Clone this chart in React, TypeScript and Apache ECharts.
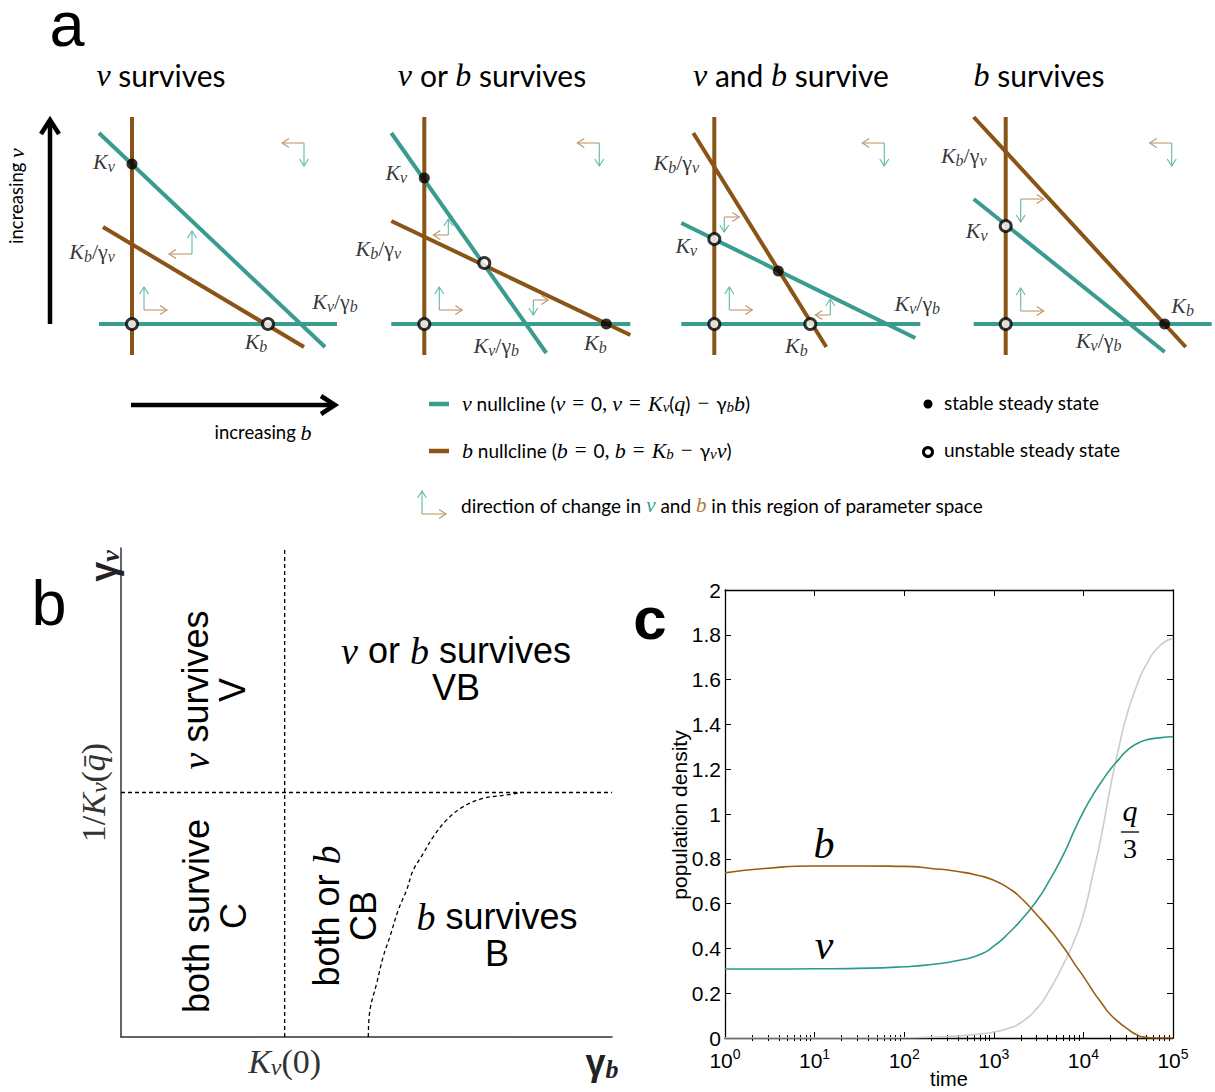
import React, { useEffect, useRef } from "react";
import * as echarts from "echarts";

// ---------------- colours & fonts ----------------
const TEAL = "#3a9b8f";
const BROWN = "#8a5417";
const ARROW_TEAL = "#62b6ab";
const ARROW_BROWN = "#c1976a";
const C_TEAL = "#2b9a8b";
const C_BROWN = "#9a5d12";
const C_GRAY = "#cccccc";
const SANS = "Lato";
const SERIF = "Liberation Serif";
const ARIAL = "Liberation Sans";

// ---------------- panel a : nullcline diagrams (units of b and v) ----------------
const panelATitles = [
  "{m|v} survives",
  "{m|v} or {m|b} survives",
  "{m|v} and {m|b} survive",
  "{m|b} survives",
];
// b nullcline b = 0 (vertical) and v nullcline v = 0 (horizontal)
const bNullclineAxis = [
  [[0, -0.31], [0, 2.07]],
  [[0, -0.31], [0, 2.07]],
  [[0, -0.31], [0, 2.07]],
  [[0, -0.31], [0, 2.07]],
];
const vNullclineAxis = [
  [[-0.33, 0], [2.05, 0]],
  [[-0.33, 0], [2.06, 0]],
  [[-0.33, 0], [2.06, 0]],
  [[-0.32, 0], [2.06, 0]],
];
// v = Kv - γb b
const vNullclineDiag = [
  [[-0.33, 1.91], [1.93, -0.23]],
  [[-0.33, 1.91], [1.22, -0.29]],
  [[-0.33, 1.01], [2.01, -0.14]],
  [[-0.32, 1.25], [1.59, -0.28]],
];
// b = Kb - γv v
const bNullclineDiag = [
  [[-0.29, 0.97], [1.72, -0.23]],
  [[-0.33, 1.03], [2.06, -0.11]],
  [[-0.21, 1.91], [1.12, -0.23]],
  [[-0.32, 2.07], [1.8, -0.23]],
];
const stableStates = [
  [[0, 1.6]],
  [[0, 1.46], [1.82, 0]],
  [[0.64, 0.53]],
  [[1.59, 0]],
];
const unstableStates = [
  [[0, 0], [1.36, 0]],
  [[0, 0], [0.6, 0.61]],
  [[0, 0], [0, 0.85], [0.96, 0]],
  [[0, 0], [0, 0.98]],
];
// direction of change: [b, v, Δb, Δv]
const changeArrows = [
  [[1.72, 1.81, -0.22, -0.23], [0.6, 0.7, -0.23, 0.23], [0.12, 0.14, 0.23, 0.23]],
  [[1.75, 1.81, -0.22, -0.23], [0.24, 0.89, -0.15, 0.16], [0.15, 0.14, 0.23, 0.23], [1.09, 0.24, 0.15, -0.15]],
  [[1.7, 1.81, -0.22, -0.23], [0.1, 1.07, 0.15, -0.15], [0.15, 0.14, 0.23, 0.23], [1.16, 0.09, -0.15, 0.16]],
  [[1.66, 1.81, -0.22, -0.23], [0.15, 1.25, 0.23, -0.23], [0.15, 0.13, 0.23, 0.23]],
];
const nullclineLabels: [number, number, string][][] = [
  [[-0.28, 1.63, "Kv"], [-0.4, 0.73, "Kb/γv"], [2.03, 0.23, "Kv/γb"], [1.24, -0.17, "Kb"]],
  [[-0.28, 1.52, "Kv"], [-0.46, 0.76, "Kb/γv"], [0.72, -0.21, "Kv/γb"], [1.71, -0.18, "Kb"]],
  [[-0.38, 1.62, "Kb/γv"], [-0.28, 0.79, "Kv"], [2.03, 0.21, "Kv/γb"], [0.82, -0.21, "Kb"]],
  [[-0.42, 1.69, "Kb/γv"], [-0.29, 0.94, "Kv"], [1.77, 0.19, "Kb"], [0.93, -0.16, "Kv/γb"]],
];
const LABEL_TEXT: Record<string, string> = {
  Kv: "{i|K}{s|v}",
  Kb: "{i|K}{s|b}",
  "Kv/γb": "{i|K}{s|v}{g|/γ}{s|b}",
  "Kb/γv": "{i|K}{s|b}{g|/γ}{s|v}",
};

// ---------------- panel b : parameter space ----------------
const boundaryKv0 = [[1, 0], [1, 2]];
const boundaryInvKv = [[0, 1], [3, 1]];
const boundaryCurve = [
  [1.511, 0], [1.521, 0.11], [1.562, 0.219], [1.602, 0.328], [1.643, 0.41], [1.694, 0.519],
  [1.745, 0.601], [1.786, 0.683], [1.847, 0.751], [1.908, 0.819], [1.99, 0.888], [2.091, 0.942],
  [2.213, 0.976], [2.356, 0.99], [2.45, 1.0],
];

// ---------------- panel c : time series ----------------
const timeC = [1, 3, 10, 30, 100, 200, 400, 700, 1000, 1500, 2000, 3000, 4000, 6000, 8000, 10000, 13000, 16000, 20000, 25000, 30000, 40000, 50000, 70000, 100000];
const bDensity = [0.737, 0.758, 0.768, 0.768, 0.766, 0.757, 0.743, 0.724, 0.704, 0.666, 0.626, 0.551, 0.495, 0.405, 0.33, 0.275, 0.205, 0.155, 0.105, 0.07, 0.045, 0.013, 0.003, 0, 0];
const vDensity = [0.308, 0.308, 0.309, 0.311, 0.318, 0.328, 0.346, 0.373, 0.41, 0.472, 0.525, 0.612, 0.69, 0.82, 0.93, 1.01, 1.09, 1.145, 1.2, 1.245, 1.28, 1.315, 1.33, 1.34, 1.345];
const qThird = [0, 0, 0, 0, 0.001, 0.004, 0.009, 0.018, 0.027, 0.045, 0.068, 0.13, 0.2, 0.33, 0.44, 0.55, 0.745, 0.91, 1.12, 1.3, 1.43, 1.58, 1.665, 1.748, 1.784];
const yTicksC = { min: 0, max: 2, interval: 0.2 };
const decadesC = [0, 1, 2, 3, 4];
const minorMultiples = [2, 3, 4, 5, 6, 7, 8, 9];

// ---------------- helpers ----------------
function arrowElements(o: number[], p: number[], color: string, lw = 1.1, h = 7, w = 4.5): any[] {
  const dx = p[0] - o[0];
  const dy = p[1] - o[1];
  const len = Math.hypot(dx, dy) || 1;
  const ux = dx / len;
  const uy = dy / len;
  const bx = p[0] - ux * h;
  const by = p[1] - uy * h;
  return [
    { type: "line", shape: { x1: o[0], y1: o[1], x2: p[0], y2: p[1] }, style: { stroke: color, lineWidth: lw, fill: null } },
    {
      type: "polyline",
      shape: { points: [[bx - uy * w, by + ux * w], [p[0], p[1]], [bx + uy * w, by - ux * w]] },
      style: { stroke: color, lineWidth: lw, fill: null, lineJoin: "miter" },
    },
  ];
}

const renderChangeArrows = (_params: any, api: any) => {
  const b = api.value(0);
  const v = api.value(1);
  const db = api.value(2);
  const dv = api.value(3);
  const o = api.coord([b, v]);
  const pb = api.coord([b + db, v]);
  const pv = api.coord([b, v + dv]);
  return {
    type: "group",
    children: [...arrowElements(o, pv, ARROW_TEAL), ...arrowElements(o, pb, ARROW_BROWN)],
  };
};

function txt(x: number, y: number, text: string, o: any = {}) {
  return {
    type: "text",
    x,
    y,
    rotation: o.rotation || 0,
    silent: true,
    z: 20,
    style: {
      text,
      fontFamily: o.fontFamily || SANS,
      fontSize: o.fontSize || 19,
      fontWeight: o.fontWeight || "normal",
      fontStyle: o.fontStyle || "normal",
      fill: o.fill || "#000",
      textAlign: o.align || "center",
      textVerticalAlign: o.valign || "middle",
      lineHeight: o.lineHeight,
      rich: o.rich,
    },
  };
}

function buildOption() {
  const subLeft = [97, 389.3, 679.3, 970.7];
  const grids: any[] = subLeft.map((l) => ({ left: l, top: 116, width: 240, height: 240 }));
  grids.push({ left: 121, top: 548, width: 491, height: 489 });
  grids.push({ left: 725, top: 590, width: 448, height: 448 });

  const xAxes: any[] = subLeft.map((_, i) => ({ type: "value", gridIndex: i, min: -0.35, max: 2.05, show: false }));
  const yAxes: any[] = subLeft.map((_, i) => ({ type: "value", gridIndex: i, min: -0.32, max: 2.08, show: false }));

  const serifRich = {
    i: { fontFamily: SERIF, fontStyle: "italic", fontSize: 34, color: "#333" },
    s: { fontFamily: SERIF, fontStyle: "italic", fontSize: 24, color: "#333", padding: [12, 0, 0, 0] },
    n: { fontFamily: SERIF, fontSize: 34, color: "#333" },
  };
  // panel b axes
  xAxes.push({
    type: "value", gridIndex: 4, min: 0, max: 3,
    axisLine: { show: true, onZero: false, lineStyle: { color: "#333", width: 1.5 } },
    axisTick: { show: false }, splitLine: { show: false },
    axisLabel: { show: true, customValues: [1], margin: 6, formatter: () => "{i|K}{s|v}{n|(0)}", rich: serifRich },
  });
  yAxes.push({
    type: "value", gridIndex: 4, min: 0, max: 2,
    axisLine: { show: true, onZero: false, lineStyle: { color: "#333", width: 1.5 } },
    axisTick: { show: false }, splitLine: { show: false },
    axisLabel: { show: true, customValues: [1], rotate: 90, margin: 10, formatter: () => "{n|1/}{i|K}{s|v}{n|(}{i|q\u0304}{n|)}", rich: serifRich },
  });
  // panel c axes
  const expRich = {
    b: { fontFamily: ARIAL, fontSize: 21, color: "#000" },
    e: { fontFamily: ARIAL, fontSize: 14, color: "#000", padding: [0, 0, 12, 0] },
  };
  const blackLine = { show: true, onZero: false, lineStyle: { color: "#000", width: 1.3 } };
  xAxes.push({
    type: "log", logBase: 10, gridIndex: 5, min: 1, max: 100000, position: "bottom",
    axisLine: blackLine,
    axisTick: { show: true, inside: true, length: 6, lineStyle: { color: "#000", width: 1 } },
    splitLine: { show: false },
    axisLabel: { margin: 9, formatter: (v: number) => `{b|10}{e|${Math.round(Math.log10(v))}}`, rich: expRich },
  });
  xAxes.push({
    type: "log", logBase: 10, gridIndex: 5, min: 1, max: 100000, position: "top",
    axisLine: blackLine,
    axisTick: { show: true, inside: true, length: 6, lineStyle: { color: "#000", width: 1 } },
    splitLine: { show: false }, axisLabel: { show: false },
  });
  const minorExp = decadesC.flatMap((d) => minorMultiples.map((m) => d + Math.log10(m)));
  ["bottom", "top"].forEach((pos) =>
    xAxes.push({
      type: "value", gridIndex: 5, min: 0, max: 5, position: pos,
      axisLine: { show: false }, splitLine: { show: false }, axisLabel: { show: false },
      axisTick: { show: true, inside: true, length: 3, customValues: minorExp, lineStyle: { color: "#000", width: 1 } },
    })
  );
  yAxes.push({
    type: "value", gridIndex: 5, ...yTicksC, position: "left",
    axisLine: blackLine,
    axisTick: { show: true, inside: true, length: 6, lineStyle: { color: "#000", width: 1 } },
    splitLine: { show: false },
    axisLabel: { fontFamily: ARIAL, fontSize: 21, color: "#000", margin: 4 },
  });
  yAxes.push({
    type: "value", gridIndex: 5, ...yTicksC, position: "right",
    axisLine: blackLine,
    axisTick: { show: true, inside: true, length: 6, lineStyle: { color: "#000", width: 1 } },
    splitLine: { show: false }, axisLabel: { show: false },
  });

  const series: any[] = [];
  const kRich = {
    i: { fontFamily: SERIF, fontStyle: "italic", fontSize: 22, color: "#000" },
    s: { fontFamily: SERIF, fontStyle: "italic", fontSize: 16, color: "#000", padding: [10, 0, 0, 0] },
    g: { fontFamily: SERIF, fontSize: 22, color: "#000" },
  };
  for (let i = 0; i < 4; i++) {
    const ax = { xAxisIndex: i, yAxisIndex: i };
    const lineBase = { type: "line", ...ax, symbol: "none", silent: true, clip: false, z: 2 };
    series.push({ ...lineBase, data: vNullclineAxis[i], lineStyle: { color: TEAL, width: 4 } });
    series.push({ ...lineBase, data: vNullclineDiag[i], lineStyle: { color: TEAL, width: 4 } });
    series.push({ ...lineBase, data: bNullclineAxis[i], lineStyle: { color: BROWN, width: 4 } });
    series.push({ ...lineBase, data: bNullclineDiag[i], lineStyle: { color: BROWN, width: 4 } });
    series.push({
      type: "custom", ...ax, renderItem: renderChangeArrows, data: changeArrows[i],
      encode: { x: 0, y: 1 }, silent: true, clip: false, z: 3,
    });
    series.push({
      type: "scatter", ...ax, data: stableStates[i], symbol: "circle", symbolSize: 11,
      itemStyle: { color: "#000" }, silent: true, clip: false, z: 5,
    });
    series.push({
      type: "scatter", ...ax, data: unstableStates[i], symbol: "circle", symbolSize: 11,
      itemStyle: { color: "#fff", borderColor: "#000", borderWidth: 3 }, silent: true, clip: false, z: 5,
    });
    series.push({
      type: "scatter", ...ax, symbolSize: 1, itemStyle: { color: "rgba(0,0,0,0)" }, silent: true, clip: false, z: 6,
      data: nullclineLabels[i].map(([b, v, key]) => ({ name: key, value: [b, v] })),
      label: { show: true, position: "inside", color: "#000", formatter: (p: any) => LABEL_TEXT[p.name], rich: kRich },
    });
  }
  const dashed = { color: "#000", width: 1.3, type: [4, 3] };
  const bAx = { xAxisIndex: 4, yAxisIndex: 4, symbol: "none", silent: true };
  series.push({ type: "line", ...bAx, data: boundaryKv0, lineStyle: dashed });
  series.push({ type: "line", ...bAx, data: boundaryInvKv, lineStyle: dashed });
  series.push({ type: "line", ...bAx, data: boundaryCurve, smooth: 0.4, lineStyle: dashed });

  const cAx = { xAxisIndex: 5, yAxisIndex: 5, symbol: "none", showSymbol: false, silent: true, smooth: 0.6 };
  series.push({ type: "line", ...cAx, data: timeC.map((t, k) => [t, qThird[k]]), lineStyle: { color: C_GRAY, width: 1.6 } });
  series.push({ type: "line", ...cAx, data: timeC.map((t, k) => [t, vDensity[k]]), lineStyle: { color: C_TEAL, width: 1.6 } });
  series.push({ type: "line", ...cAx, data: timeC.map((t, k) => [t, bDensity[k]]), lineStyle: { color: C_BROWN, width: 1.6 } });

  // ---------------- graphic texts & decorations ----------------
  const titleRich = { m: { fontFamily: SERIF, fontStyle: "italic", fontSize: 32, fill: "#000" } };
  const lgRich = {
    m: { fontFamily: SERIF, fontStyle: "italic", fontSize: 22, fill: "#000" },
    s: { fontFamily: SERIF, fontStyle: "italic", fontSize: 15, fill: "#000", padding: [8, 0, 0, 0] },
    o: { fontFamily: SERIF, fontSize: 21, fill: "#000", padding: [0, 7, 0, 7] },
    c: { fontFamily: SERIF, fontSize: 21, fill: "#000", padding: [0, 5, 0, 0] },
    tv: { fontFamily: SERIF, fontStyle: "italic", fontSize: 21, fill: TEAL },
    tb: { fontFamily: SERIF, fontStyle: "italic", fontSize: 21, fill: "#b07a30" },
  };
  const bigRich = { m: { fontFamily: SERIF, fontStyle: "italic", fontSize: 38, fill: "#000", lineHeight: 37 } };
  const gRich = {
    g: { fontFamily: ARIAL, fontSize: 36, fontWeight: "bold", fill: "#222" },
    s: { fontFamily: SERIF, fontStyle: "italic", fontWeight: "bold", fontSize: 26, fill: "#222", padding: [14, 0, 0, 0] },
  };
  const titleX = [161, 492, 791, 1039];
  const graphics: any[] = [];
  graphics.push(txt(67, 24, "a", { fontFamily: ARIAL, fontSize: 63 }));
  graphics.push(txt(49, 603, "b", { fontFamily: ARIAL, fontSize: 63 }));
  graphics.push(txt(650, 618, "c", { fontFamily: ARIAL, fontSize: 60, fontWeight: "bold" }));
  panelATitles.forEach((t, i) => graphics.push(txt(titleX[i], 75, t, { fontSize: 30, rich: titleRich })));
  // axes of panel a
  graphics.push({ type: "line", shape: { x1: 50, y1: 324, x2: 50, y2: 121 }, style: { stroke: "#000", lineWidth: 4.5 }, silent: true });
  graphics.push({ type: "polyline", shape: { points: [[41, 134], [50, 120], [59, 134]] }, style: { stroke: "#000", lineWidth: 4.5, fill: null }, silent: true });
  graphics.push({ type: "line", shape: { x1: 131, y1: 405, x2: 334, y2: 405 }, style: { stroke: "#000", lineWidth: 4.5 }, silent: true });
  graphics.push({ type: "polyline", shape: { points: [[321, 396], [335, 405], [321, 414]] }, style: { stroke: "#000", lineWidth: 4.5, fill: null }, silent: true });
  graphics.push(txt(16, 196, "increasing {m|v}", { rotation: Math.PI / 2, fontSize: 18.5, rich: lgRich }));
  graphics.push(txt(263, 432, "increasing {m|b}", { fontSize: 18.5, rich: lgRich }));
  // legend
  graphics.push({ type: "line", shape: { x1: 429, y1: 404, x2: 449, y2: 404 }, style: { stroke: TEAL, lineWidth: 4.5 }, silent: true });
  graphics.push(txt(462, 403, "{m|v} nullcline ({m|v}{o|=}0{c|,}{m|v}{o|=}{m|K}{s|v}({m|q}){o|−}γ{s|b}{m|b})", { align: "left", rich: lgRich }));
  graphics.push({ type: "line", shape: { x1: 429, y1: 451, x2: 449, y2: 451 }, style: { stroke: BROWN, lineWidth: 4.5 }, silent: true });
  graphics.push(txt(462, 450, "{m|b} nullcline ({m|b}{o|=}0{c|,}{m|b}{o|=}{m|K}{s|b}{o|−}γ{s|v}{m|v})", { align: "left", rich: lgRich }));
  arrowElements([422, 514], [422, 491], ARROW_TEAL).forEach((e) => graphics.push({ ...e, silent: true }));
  arrowElements([422, 514], [446, 514], ARROW_BROWN).forEach((e) => graphics.push({ ...e, silent: true }));
  graphics.push(txt(461, 505, "direction of change in {tv|v} and {tb|b} in this region of parameter space", { align: "left", rich: lgRich }));
  graphics.push({ type: "circle", shape: { cx: 928, cy: 404, r: 4.5 }, style: { fill: "#000" }, silent: true });
  graphics.push(txt(944, 402, "stable steady state", { align: "left" }));
  graphics.push({ type: "circle", shape: { cx: 928, cy: 452, r: 4.5 }, style: { fill: "#fff", stroke: "#000", lineWidth: 3 }, silent: true });
  graphics.push(txt(944, 449, "unstable steady state", { align: "left" }));
  // panel b
  const regionOpts = { fontFamily: ARIAL, fontSize: 36, lineHeight: 37, rich: bigRich };
  graphics.push(txt(214, 690, "{m|v} survives\nV", { ...regionOpts, rotation: Math.PI / 2 }));
  graphics.push(txt(456, 669, "{m|v} or {m|b} survives\nVB", regionOpts));
  graphics.push(txt(215, 916, "both survive\nC", { ...regionOpts, rotation: Math.PI / 2 }));
  graphics.push(txt(345, 916, "both or {m|b}\nCB", { ...regionOpts, rotation: Math.PI / 2 }));
  graphics.push(txt(497, 935, "{m|b} survives\nB", regionOpts));
  graphics.push(txt(103, 566, "{g|γ}{s|v}", { rotation: Math.PI / 2, rich: gRich }));
  graphics.push(txt(602, 1062, "{g|γ}{s|b}", { rich: gRich }));
  // panel c
  graphics.push(txt(679, 815, "population density", { fontFamily: ARIAL, fontSize: 21, rotation: Math.PI / 2 }));
  graphics.push(txt(949, 1079, "time", { fontFamily: ARIAL, fontSize: 20 }));
  graphics.push(txt(824, 844, "b", { fontFamily: SERIF, fontStyle: "italic", fontSize: 42 }));
  graphics.push(txt(824, 945, "v", { fontFamily: SERIF, fontStyle: "italic", fontSize: 42 }));
  graphics.push(txt(1130, 810, "q", { fontFamily: SERIF, fontStyle: "italic", fontSize: 30 }));
  graphics.push({ type: "line", shape: { x1: 1121, y1: 832, x2: 1139, y2: 832 }, style: { stroke: "#000", lineWidth: 1.3 }, silent: true });
  graphics.push(txt(1130, 848, "3", { fontFamily: SERIF, fontSize: 28 }));

  return {
    animation: false,
    backgroundColor: "#fff",
    grid: grids,
    xAxis: xAxes,
    yAxis: yAxes,
    series,
    graphic: { elements: graphics },
  };
}

export default function App() {
  const ref = useRef<HTMLDivElement>(null);
  useEffect(() => {
    if (!ref.current) return;
    const chart = echarts.init(ref.current, undefined, { renderer: "svg", width: 1215, height: 1092 });
    chart.setOption(buildOption() as any);
    return () => chart.dispose();
  }, []);
  return (
    <div
      ref={ref}
      style={{ position: "absolute", left: 0, top: 0, width: 1215, height: 1092, background: "#fff" }}
    />
  );
}
